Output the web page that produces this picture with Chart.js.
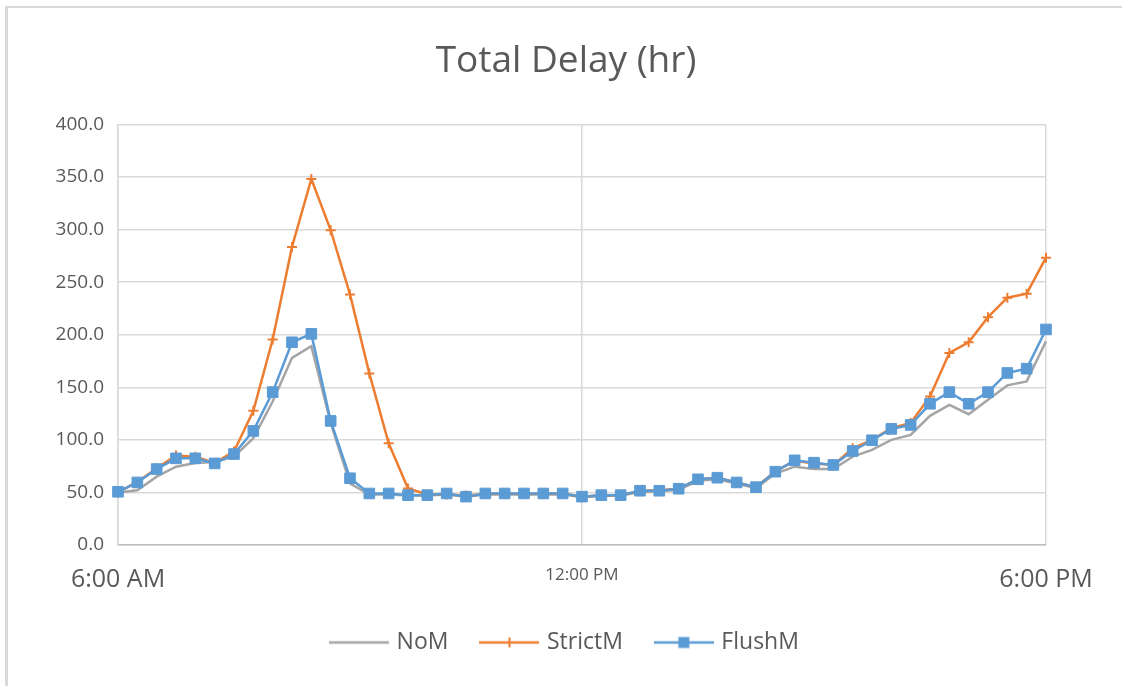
<!DOCTYPE html>
<html>
<head>
<meta charset="utf-8">
<title>Total Delay (hr)</title>
<script src="https://cdn.jsdelivr.net/npm/chart.js@4/dist/chart.umd.min.js"></script>
<style>
    html, body { margin: 0; padding: 0; background: #ffffff; }
    #wrap { position: relative; width: 1122px; height: 686px; overflow: hidden; }
    #frame {
        position: absolute; left: 5px; top: 6px; width: 1140px; height: 700px;
        border-top: 2px solid #d9d9d9; border-left: 3px solid #d9d9d9;
        box-sizing: border-box; pointer-events: none;
    }
    #delayChart { position: absolute; left: 0; top: 0; }
</style>
</head>
<body>
<div id="wrap">
    <canvas id="delayChart" width="1122" height="686"></canvas>
    <div id="frame"></div>
</div>
<script>
// 15-minute intervals, 6:00 AM to 6:00 PM
const timeLabels = [
    '6:00 AM', '6:15 AM', '6:30 AM', '6:45 AM', '7:00 AM', '7:15 AM', '7:30 AM', '7:45 AM',
    '8:00 AM', '8:15 AM', '8:30 AM', '8:45 AM', '9:00 AM', '9:15 AM', '9:30 AM', '9:45 AM',
    '10:00 AM', '10:15 AM', '10:30 AM', '10:45 AM', '11:00 AM', '11:15 AM', '11:30 AM', '11:45 AM',
    '12:00 PM', '12:15 PM', '12:30 PM', '12:45 PM', '1:00 PM', '1:15 PM', '1:30 PM', '1:45 PM',
    '2:00 PM', '2:15 PM', '2:30 PM', '2:45 PM', '3:00 PM', '3:15 PM', '3:30 PM', '3:45 PM',
    '4:00 PM', '4:15 PM', '4:30 PM', '4:45 PM', '5:00 PM', '5:15 PM', '5:30 PM', '5:45 PM',
    '6:00 PM'
];
const shownTicks = ['6:00 AM', '12:00 PM', '6:00 PM'];

const noM = [
    50, 52, 65, 74.5, 78, 79, 84, 101.5, 136.5, 178, 189, 116, 58.5, 48, 48, 47,
    47, 48, 46, 48, 48, 48, 48, 48, 45.5, 46.5, 47, 50.5, 51, 52.5, 61, 62.5,
    58.5, 54, 68, 74.5, 72.2, 72.2, 84, 90.4, 100, 104.7, 122.8, 133.3, 124.4, 138.1,
    151.8, 155.6, 193.8
];
const strictM = [
    50, 60, 73, 85, 84, 78, 89, 127.6, 195.4, 283.5, 348.1, 299.4, 238.3, 163.2, 96.7, 53.8,
    48, 48, 47, 48.5, 49, 48.5, 49, 49, 46, 47.4, 47.4, 51.6, 52, 53.5, 62.5, 64,
    59.5, 55, 70, 80, 77.5, 76, 92, 100, 111, 116, 141.3, 182.6, 192.8, 216.7,
    235.2, 239, 273.3
];
const flushM = [
    50.6, 59.5, 72.2, 82.4, 82.4, 77.6, 86.5, 108.5, 145.4, 192.8, 200.8, 118, 63.5, 49, 49, 47.4,
    47.4, 49, 46, 49, 49, 49, 49, 49, 46, 47.4, 47.4, 51.6, 51.6, 53.5, 62.5, 64,
    59.5, 55, 69.7, 80.5, 78.3, 76.1, 89.4, 99.6, 110.4, 114.2, 134.3, 145.4, 134.3, 145.4,
    163.6, 167.7, 205
];

const GRAY = '#a5a5a5';
const ORANGE = '#ed7d31';
const BLUE = '#5b9bd5';
const TEXT = '#595959';
const GRID = '#d9d9d9';
const FONT = "'Open Sans', sans-serif";

// small line + marker swatch for the legend
function legendSwatch(color, marker) {
    const c = document.createElement('canvas');
    c.width = 60;
    c.height = 14;
    const g = c.getContext('2d');
    g.strokeStyle = color;
    g.lineWidth = 2.5;
    g.beginPath();
    g.moveTo(0, 7);
    g.lineTo(60, 7);
    g.stroke();
    if (marker === 'cross') {
        g.lineWidth = 2;
        g.beginPath();
        g.moveTo(30, 2); g.lineTo(30, 12);
        g.moveTo(25, 7); g.lineTo(35, 7);
        g.stroke();
    } else if (marker === 'rect') {
        g.fillStyle = color;
        g.fillRect(24.5, 1.5, 11, 11);
    }
    return c;
}

const swatches = [
    legendSwatch(GRAY, null),
    legendSwatch(ORANGE, 'cross'),
    legendSwatch(BLUE, 'rect')
];

const ctx = document.getElementById('delayChart').getContext('2d');
new Chart(ctx, {
    type: 'line',
    data: {
        labels: timeLabels,
        datasets: [
            {
                label: 'NoM',
                data: noM,
                borderColor: GRAY,
                backgroundColor: GRAY,
                borderWidth: 2.5,
                pointRadius: 0,
                tension: 0,
                order: 3
            },
            {
                label: 'StrictM',
                data: strictM,
                borderColor: ORANGE,
                backgroundColor: ORANGE,
                borderWidth: 2.5,
                pointStyle: 'cross',
                pointRadius: 5,
                pointBorderWidth: 2,
                tension: 0,
                order: 2
            },
            {
                label: 'FlushM',
                data: flushM,
                borderColor: BLUE,
                backgroundColor: BLUE,
                borderWidth: 2.5,
                pointStyle: 'rect',
                pointRadius: 7.5,
                pointBorderWidth: 1,
                tension: 0,
                order: 1
            }
        ]
    },
    options: {
        responsive: false,
        animation: false,
        layout: { padding: { left: 10, right: 0, top: 0, bottom: 22 } },
        plugins: {
            title: {
                display: true,
                text: 'Total Delay (hr)',
                color: TEXT,
                font: { family: FONT, size: 37, weight: 'normal' },
                padding: { top: 39, bottom: 41 }
            },
            legend: {
                position: 'bottom',
                labels: {
                    color: TEXT,
                    font: { family: FONT, size: 23 },
                    usePointStyle: true,
                    pointStyleWidth: 52,
                    padding: 35,
                    generateLabels: chart => chart.data.datasets.map((ds, i) => ({
                        text: ds.label,
                        fontColor: TEXT,
                        pointStyle: swatches[i],
                        strokeStyle: ds.borderColor,
                        fillStyle: ds.borderColor,
                        lineWidth: 0,
                        datasetIndex: i
                    }))
                }
            },
            tooltip: { enabled: false }
        },
        scales: {
            x: {
                offset: false,
                grid: { color: GRID, lineWidth: 1.5, drawTicks: false },
                border: { color: '#bfbfbf', width: 1.5 },
                ticks: {
                    autoSkip: false,
                    maxRotation: 0,
                    color: TEXT,
                    // the noon label is set smaller than the two ends
                    font: c => ({
                        family: FONT,
                        size: (c.tick && c.tick.label === '12:00 PM') ? 17 : 25
                    }),
                    padding: 20,
                    callback: function (value) {
                        const lbl = this.getLabelForValue(value);
                        return shownTicks.includes(lbl) ? lbl : null;
                    }
                },
                afterFit: scale => { scale.height = 51; }
            },
            y: {
                min: 0,
                max: 400,
                grid: { color: GRID, lineWidth: 1.5, drawTicks: false },
                border: { color: GRID, width: 1.5 },
                ticks: {
                    stepSize: 50,
                    color: TEXT,
                    font: { family: FONT, size: 19 },
                    padding: 14,
                    callback: value => value.toFixed(1)
                },
                afterFit: scale => { scale.width = 108; }
            },
            // empty right-hand margin beside the plot area
            margin: {
                type: 'linear',
                position: 'right',
                grid: { display: false },
                border: { display: false },
                ticks: { display: false },
                afterFit: scale => { scale.width = 76; }
            }
        }
    }
});
</script>
</body>
</html>
